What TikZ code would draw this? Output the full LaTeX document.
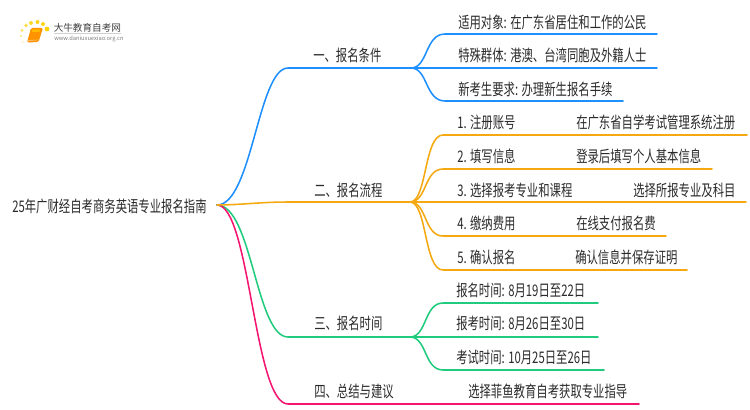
\documentclass[tikz,border=0pt]{standalone}
\usepackage{fontspec}
\setmainfont{Noto Sans CJK SC}[FakeStretch=0.71]
\newfontfamily\logofont{Noto Sans CJK SC}
\definecolor{cblue}{HTML}{1E8FFF}
\definecolor{corange}{HTML}{F5A80F}
\definecolor{cgreen}{HTML}{1FCB7C}
\definecolor{cpink}{HTML}{F5146F}
\definecolor{ctext}{HTML}{2B2B2B}
\tikzset{
 x=0.75pt,y=-0.75pt,
 lbl/.style={anchor=west,inner sep=0pt,text=ctext,font=\fontsize{12}{14}\selectfont},
 conn/.style={line width=1.15pt,line cap=round},
}
\begin{document}
\begin{tikzpicture}
\useasboundingbox (0,0) rectangle (750,410);
% logo
\fill[white] (0,0) rectangle (750,410);
\foreach \px/\py/\r/\o in {47/29/2.4/60,43/24/2/55,37.5/22/2/55,31/23/2/50,26/25.5/1.8/45,22/30.5/1.5/40,21/36/1.2/30,23/42/1/20}
  \fill[yellow!70!orange,opacity=\o/60] (\px,\py) circle (\r);
\fill[orange!85!yellow,rounded corners=1pt] (31,28) -- (43,28) -- (38.5,42) -- (27,42.5) -- cycle;
\fill[orange!55!yellow] (32.5,29.5) -- (40.5,29.5) -- (39.5,32) -- (31.5,32) -- cycle;
\draw[orange!40!white,line width=0.4pt] (28,40.5) -- (38,40);
\node[anchor=west,inner sep=0pt,text=black!75] (logotitle) at (53.5,27.5) {\logofont\fontsize{7.2}{8}\selectfont 大牛教育自考网};
\draw[black!18,line width=0.4pt] (54,33.5) -- (121,33.5);
\node[anchor=west,inner sep=0pt,text=black!50] (logourl) at (54,38.5) {\logofont\fontsize{4.3}{5}\selectfont www.daniuxuexiao.org.cn};
% root
\node[lbl] (root) at (12,206) {25年广财经自考商务英语专业报名指南};
\coordinate (r) at (217,205);
% branches
\coordinate (j1) at (411,68);
\coordinate (j2) at (410,202);
\coordinate (j3) at (410,337);
\coordinate (b1) at (288,68);
\coordinate (b2) at (288,202);
\coordinate (b3) at (288,337);
\coordinate (b4) at (288,404);
\coordinate (e4) at (639,404);
\draw[conn,cgreen] (r) .. controls (252,205) and (256,337) .. (b3) -- (j3);
\draw[conn,cpink] (r) .. controls (250,205) and (254,404) .. (b4) -- (e4);
\draw[conn,cblue] (r) .. controls (252,205) and (258,68) .. (b1) -- (j1);
\draw[conn,corange] (r) .. controls (240,205) and (260,202) .. (b2) -- (j2);
\node[lbl] (n1) at (313,55) {一、报名条件};
\node[lbl] (n2) at (314,190) {二、报名流程};
\node[lbl] (n3) at (314,323) {三、报名时间};
\node[lbl] (n4) at (314,391) {四、总结与建议};
% blue children
\foreach \n/\y/\e in {a/34/657,b/68/657,c/101/623}{
 \coordinate (s\n) at (445,\y); \coordinate (t\n) at (\e,\y);
 \draw[conn,cblue] (j1) .. controls (428,68) and (425,\y) .. (s\n) -- (t\n);
}
\node[lbl] (a1) at (458,22) {适用对象: 在广东省居住和工作的公民};
\node[lbl] (a2) at (458,55) {特殊群体: 港澳、台湾同胞及外籍人士};
\node[lbl] (a3) at (458,89) {新考生要求: 办理新生报名手续};
% orange children
\foreach \n/\y/\e in {d/135/747,e/169/712,f/202/746,g/236/666,h/270/687}{
 \coordinate (s\n) at (443,\y); \coordinate (t\n) at (\e,\y);
 \draw[conn,corange] (j2) .. controls (427,202) and (424,\y) .. (s\n) -- (t\n);
}
\node[lbl] (o1) at (457,122) {1. 注册账号};
\node[lbl] (o1b) at (576,122) {在广东省自学考试管理系统注册};
\node[lbl] (o2) at (457,156) {2. 填写信息};
\node[lbl] (o2b) at (576,156) {登录后填写个人基本信息};
\node[lbl] (o3) at (457,190) {3. 选择报考专业和课程};
\node[lbl] (o3b) at (633,190) {选择所报专业及科目};
\node[lbl] (o4) at (457,223) {4. 缴纳费用};
\node[lbl] (o4b) at (576,223) {在线支付报名费};
\node[lbl] (o5) at (457,257) {5. 确认报名};
\node[lbl] (o5b) at (575,257) {确认信息并保存证明};
% green children
\foreach \n/\y/\e in {i/303/598,j/337/598,k/370/604}{
 \coordinate (s\n) at (443,\y); \coordinate (t\n) at (\e,\y);
 \draw[conn,cgreen] (j3) .. controls (427,337) and (424,\y) .. (s\n) -- (t\n);
}
\node[lbl] (g1) at (456,290) {报名时间: 8月19日至22日};
\node[lbl] (g2) at (456,323) {报考时间: 8月26日至30日};
\node[lbl] (g3) at (456,357) {考试时间: 10月25日至26日};
\node[lbl] (p1) at (468,391) {选择菲鱼教育自考获取专业指导};
\end{tikzpicture}
\end{document}
